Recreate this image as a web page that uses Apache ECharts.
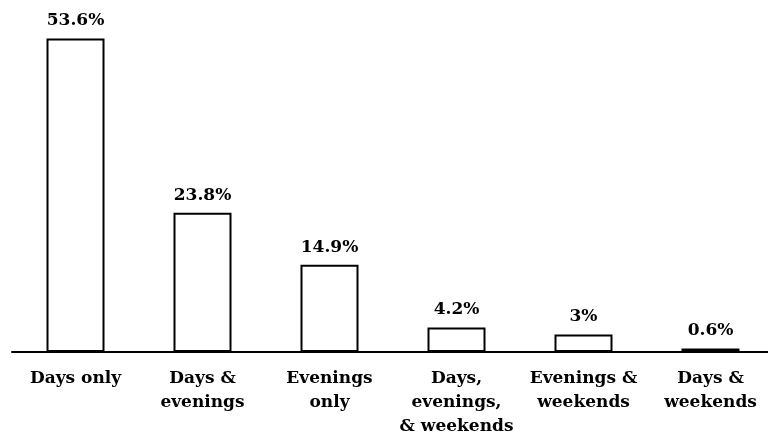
<!DOCTYPE html>
<html>
<head>
<meta charset="utf-8">
<script src="https://cdn.jsdelivr.net/npm/echarts@6/dist/echarts.min.js"></script>
<style>
  html, body { margin: 0; padding: 0; background: #fff; }
  #chart { width: 768px; height: 437px; }
</style>
</head>
<body>
<div id="chart"></div>
<script>
// Scheduling preference categories and their shares (percent)
const categories = [
  'Days only',
  'Days &\nevenings',
  'Evenings\nonly',
  'Days,\nevenings,\n& weekends',
  'Evenings &\nweekends',
  'Days &\nweekends'
];
const shares = [53.6, 23.8, 14.9, 4.2, 3, 0.6];

const FONT = '"DejaVu Serif", "Liberation Serif", serif';

const chart = echarts.init(document.getElementById('chart'), null, { renderer: 'canvas' });
chart.setOption({
  animation: false,
  backgroundColor: '#ffffff',
  grid: {
    left: 12, top: 1, width: 762, height: 351,
    containLabel: false,
    outerBoundsMode: 'none'
  },
  xAxis: {
    type: 'category',
    data: categories,
    axisLine: { show: true, lineStyle: { color: '#000', width: 2 } },
    axisTick: { show: false },
    axisLabel: {
      color: '#000',
      fontFamily: FONT,
      fontWeight: 'bold',
      fontSize: 17,
      lineHeight: 24,
      margin: 15,
      interval: 0
    }
  },
  yAxis: {
    type: 'value',
    min: 0,
    max: 60,
    show: false,
    splitLine: { show: false }
  },
  series: [{
    type: 'bar',
    data: shares,
    barWidth: 58,
    itemStyle: { color: '#fff', borderColor: '#000', borderWidth: 2 },
    label: {
      show: true,
      position: 'top',
      distance: 9,
      color: '#000',
      fontFamily: FONT,
      fontWeight: 'bold',
      fontSize: 17,
      formatter: p => p.value + '%'
    }
  }]
});
</script>
</body>
</html>
